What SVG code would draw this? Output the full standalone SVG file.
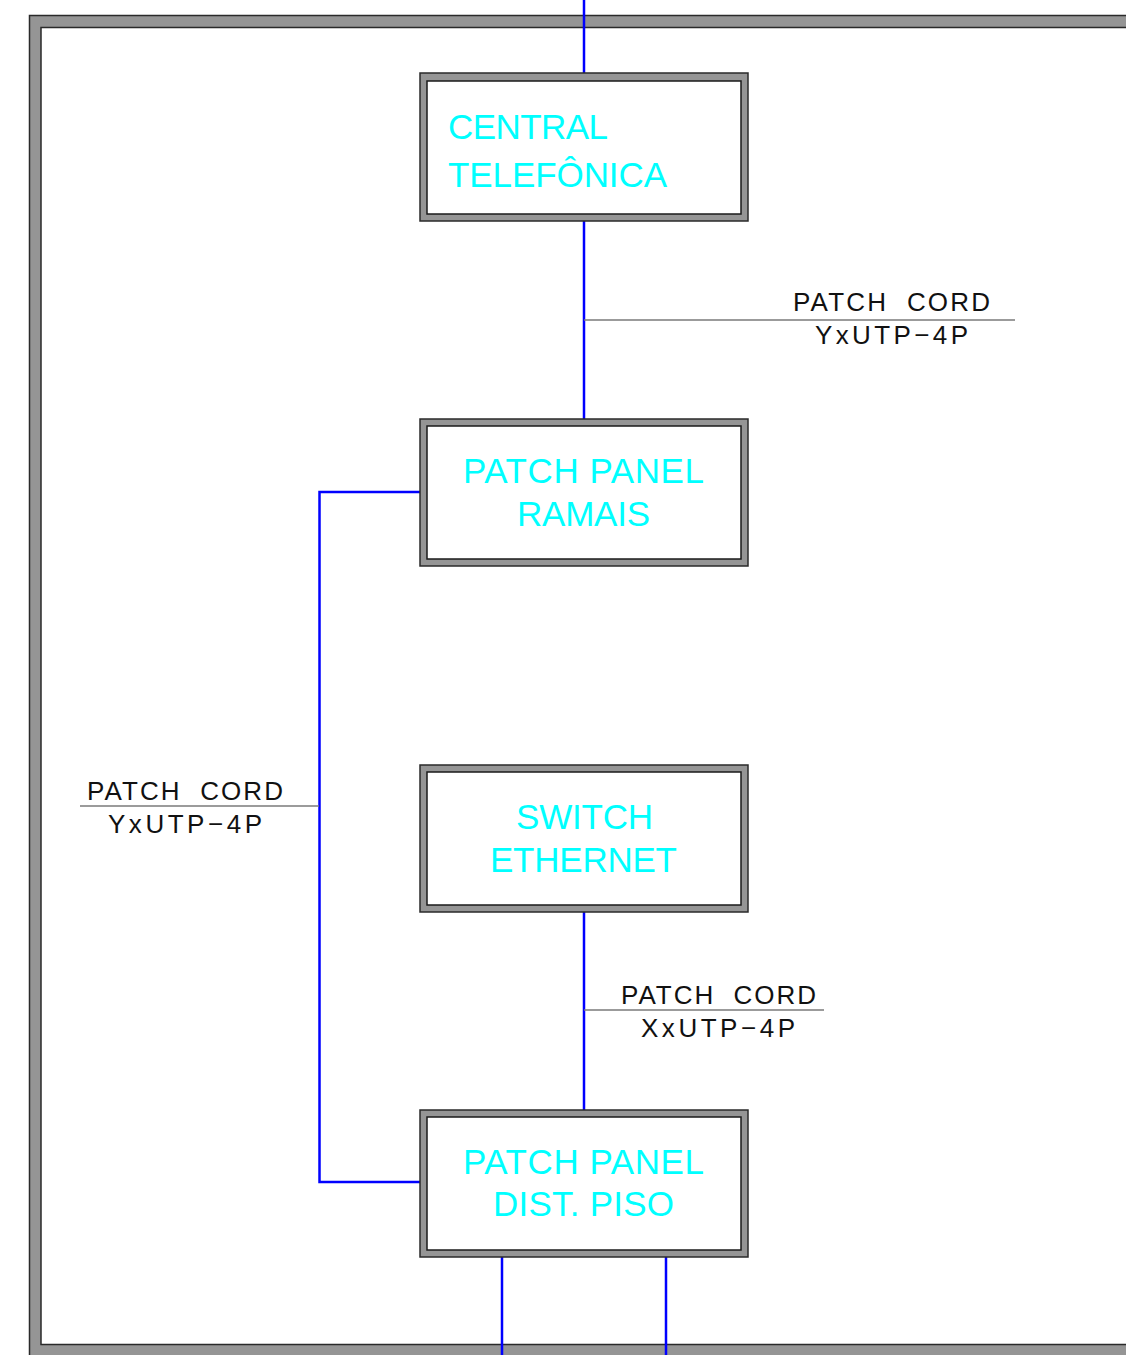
<svg xmlns="http://www.w3.org/2000/svg" width="1126" height="1355" viewBox="0 0 1126 1355">
<style>
.frame{fill:#959595;stroke:#2a2a2a;stroke-width:1.5}
.inner{fill:#fff;stroke:#1a1a1a;stroke-width:1.5}
.lbl{font-family:"Liberation Sans",Arial,sans-serif;font-size:35px;fill:#00ffff}
.cord{font-family:"Liberation Sans",Arial,sans-serif;font-size:26px;fill:#111}
.wire{fill:none;stroke:#0000ff;stroke-width:2.5}
.lead{stroke:#7a7a7a;stroke-width:1.5}
</style>
<rect width="1126" height="1355" fill="#fff"/>
<g id="border">
<path d="M29.5 1360 V15.5 H1130 V27.5 H41 V1344.5 H1130 V1360 Z" class="frame"/>
</g>
<g id="connectors">
<line x1="584" y1="0" x2="584" y2="73" class="wire"/>
<line x1="584" y1="221" x2="584" y2="419" class="wire"/>
<line x1="584" y1="912" x2="584" y2="1110" class="wire"/>
<polyline points="420,492 319.5,492 319.5,1182 420,1182" class="wire"/>
<line x1="502" y1="1257" x2="502" y2="1355" class="wire"/>
<line x1="666" y1="1257" x2="666" y2="1355" class="wire"/>
<line x1="584" y1="320" x2="1015" y2="320" class="lead"/>
<line x1="80" y1="806" x2="319" y2="806" class="lead"/>
<line x1="584" y1="1010" x2="824" y2="1010" class="lead"/>
<text class="cord" x="793" y="311" textLength="197" lengthAdjust="spacing" xml:space="preserve">PATCH  CORD</text>
<text class="cord" x="815" y="344" textLength="153" lengthAdjust="spacing">YxUTP−4P</text>
<text class="cord" x="87" y="800" textLength="196" lengthAdjust="spacing" xml:space="preserve">PATCH  CORD</text>
<text class="cord" x="108" y="833" textLength="154" lengthAdjust="spacing">YxUTP−4P</text>
<text class="cord" x="621" y="1004" textLength="195" lengthAdjust="spacing" xml:space="preserve">PATCH  CORD</text>
<text class="cord" x="641" y="1037" textLength="154" lengthAdjust="spacing">XxUTP−4P</text>
</g>
<g id="central">
<rect x="420" y="73" width="328" height="148" class="frame"/>
<rect x="427" y="81" width="314" height="133" class="inner"/>
<text class="lbl" x="448" y="139" textLength="160" lengthAdjust="spacing">CENTRAL</text>
<text class="lbl" x="448" y="187" textLength="219" lengthAdjust="spacing">TELEFÔNICA</text>
</g>
<g id="pp-ramais">
<rect x="420" y="419" width="328" height="147" class="frame"/>
<rect x="427" y="426" width="314" height="133" class="inner"/>
<text class="lbl" x="463" y="483" textLength="241" lengthAdjust="spacing">PATCH PANEL</text>
<text class="lbl" x="517" y="526" textLength="133" lengthAdjust="spacing">RAMAIS</text>
</g>
<g id="switch">
<rect x="420" y="765" width="328" height="147" class="frame"/>
<rect x="427" y="772" width="314" height="133" class="inner"/>
<text class="lbl" x="516" y="829" textLength="137" lengthAdjust="spacing">SWITCH</text>
<text class="lbl" x="490" y="872" textLength="187" lengthAdjust="spacing">ETHERNET</text>
</g>
<g id="pp-dist">
<rect x="420" y="1110" width="328" height="147" class="frame"/>
<rect x="427" y="1117" width="314" height="133" class="inner"/>
<text class="lbl" x="463" y="1174" textLength="241" lengthAdjust="spacing">PATCH PANEL</text>
<text class="lbl" x="493" y="1216" textLength="181" lengthAdjust="spacing">DIST. PISO</text>
</g>
</svg>
